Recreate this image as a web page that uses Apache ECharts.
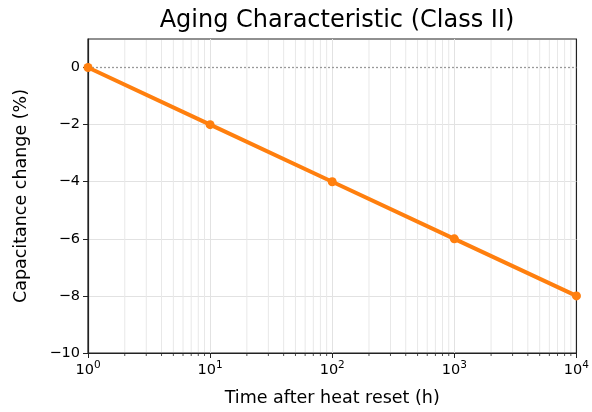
<!DOCTYPE html>
<html>
<head>
<meta charset="utf-8">
<script src="https://cdn.jsdelivr.net/npm/echarts@6/dist/echarts.min.js"></script>
<style>
  html, body { margin: 0; padding: 0; background: #fff; }
  #chart { width: 592px; height: 412px; }
</style>
</head>
<body>
<div id="chart"></div>
<script>
// data
const hours = [1, 10, 100, 1000, 10000]
const capChange = [0, -2, -4, -6, -8]
const yTicks = [-10, -8, -6, -4, -2, 0]

// minor log positions 2..9 in each decade
const minorTicks = []
for (let d = 1; d < 10000; d *= 10) {
  for (let k = 2; k <= 9; k++) minorTicks.push([k * d])
}

const chart = echarts.init(document.getElementById('chart'))
const font = 'DejaVu Sans'

chart.setOption({
  animation: false,
  textStyle: { fontFamily: font },
  title: {
    text: 'Aging Characteristic (Class II)',
    left: 332, top: 4, textAlign: 'center',
    textStyle: { fontSize: 24, fontWeight: 'normal', color: '#000', fontFamily: font }
  },
  grid: {
    left: 88, right: 15, top: 39, bottom: 59,
    show: true, borderColor: '#222', borderWidth: 1.2, backgroundColor: 'transparent'
  },
  xAxis: {
    type: 'log', logBase: 10, min: 1, max: 10000,
    name: 'Time after heat reset (h)', nameLocation: 'middle', nameGap: 36,
    nameTextStyle: { fontSize: 17.5, color: '#000' },
    axisLine: { onZero: false, lineStyle: { color: '#222', width: 1.2 } },
    axisTick: { length: 5, lineStyle: { color: '#222' } },
    axisLabel: {
      color: '#000', margin: 7,
      formatter: v => '{b|10}{s|' + Math.round(Math.log10(v)) + '}',
      rich: {
        b: { fontSize: 14.5, color: '#000', fontFamily: font },
        s: { fontSize: 10.5, color: '#000', fontFamily: font, padding: [0, 0, 9, 0] }
      }
    },
    splitLine: { show: true, showMinLine: false, showMaxLine: false, lineStyle: { color: '#e2e2e2', width: 1 } }
  },
  yAxis: {
    type: 'value', min: -10, max: 1,
    name: 'Capacitance change (%)', nameLocation: 'middle', nameGap: 58,
    nameTextStyle: { fontSize: 17.5, color: '#000' },
    axisLine: { show: true, lineStyle: { color: '#222', width: 1.2 } },
    axisTick: { show: true, length: 5, customValues: yTicks, lineStyle: { color: '#222' } },
    axisLabel: {
      fontSize: 14.5, color: '#000', margin: 8, customValues: yTicks,
      formatter: v => String(v).replace('-', '\u2212')
    },
    splitLine: { show: true, showMinLine: false, showMaxLine: false, lineStyle: { color: '#e2e2e2', width: 1 } }
  },
  series: [
    {
      type: 'custom',
      silent: true,
      clip: false,
      z: 1,
      data: minorTicks,
      renderItem: (params, api) => {
        const x = api.coord([api.value(0), 0])[0]
        const cs = params.coordSys
        const bottom = cs.y + cs.height
        return {
          type: 'group',
          children: [
            { type: 'line', shape: { x1: x, y1: cs.y + 1, x2: x, y2: bottom - 1 },
              style: { stroke: '#e8e8e8', lineWidth: 1 } },
            { type: 'line', shape: { x1: x, y1: bottom, x2: x, y2: bottom + 3 },
              style: { stroke: '#222', lineWidth: 0.8 } }
          ]
        }
      }
    },
    {
      type: 'line',
      data: hours.map((h, i) => [h, capChange[i]]),
      z: 5,
      color: '#ff7f0e',
      lineStyle: { width: 4, color: '#ff7f0e' },
      symbol: 'circle', symbolSize: 9,
      itemStyle: { color: '#ff7f0e' },
      markLine: {
        silent: true, symbol: 'none', label: { show: false }, z: 2,
        lineStyle: { color: '#999', type: [2, 2], width: 1.3 },
        data: [{ yAxis: 0 }]
      }
    }
  ]
})
</script>
</body>
</html>
